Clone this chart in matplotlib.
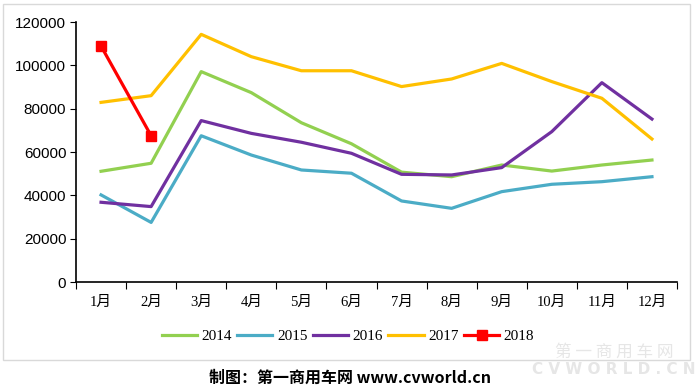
import matplotlib.pyplot as plt
from matplotlib.patches import Rectangle

# 月份及各年销量（辆）
months = ['1月', '2月', '3月', '4月', '5月', '6月', '7月', '8月', '9月', '10月', '11月', '12月']
y2014 = [51100, 54800, 97100, 87400, 73500, 63800, 50700, 48600, 54000, 51200, 54000, 56300]
y2015 = [40200, 27500, 67500, 58600, 51700, 50200, 37400, 34000, 41700, 45100, 46300, 48600]
y2016 = [36800, 34800, 74500, 68600, 64500, 59400, 49700, 49400, 52800, 69400, 92000, 75200]
y2017 = [82900, 86000, 114300, 104000, 97500, 97500, 90200, 93700, 100900, 92500, 84800, 66000]
y2018 = [108900, 67500]

cjk = ['Liberation Serif', 'Noto Sans CJK SC']

fig = plt.figure(figsize=(7, 3.9), dpi=100)
fig.patches.append(Rectangle((3/700, 1-360/390), 687/700, 356/390, transform=fig.transFigure,
                             fill=False, edgecolor='#d9d9d9', linewidth=1))
ax = fig.add_axes([76/700, 1-282/390, 601/700, 260/390])

x = list(range(12))
lw = 2.3
ax.plot(x, y2014, color='#92D050', lw=lw, label='2014')
ax.plot(x, y2015, color='#4BACC6', lw=lw, label='2015')
ax.plot(x, y2016, color='#7030A0', lw=lw, label='2016')
ax.plot(x, y2017, color='#FFC000', lw=lw, label='2017')
ax.plot(x[:len(y2018)], y2018, color='#FF0000', lw=lw, marker='s', markersize=7, label='2018')

ax.set_xlim(-0.5, 11.5)
ax.set_ylim(0, 120000)
ax.set_yticks(range(0, 120001, 20000))
ax.tick_params(axis='y', direction='out', length=4, labelsize=11, pad=3)
ax.set_xticks([i - 0.5 for i in range(13)])
ax.set_xticklabels([])
ax.set_xticks(x, minor=True)
ax.set_xticklabels(months, minor=True, fontfamily=cjk, fontsize=10.5)
ax.tick_params(axis='x', which='major', direction='out', length=5)
ax.tick_params(axis='x', which='minor', length=0, pad=10)
for lab in ax.get_yticklabels():
    lab.set_fontfamily('Liberation Sans')
for s in ['top', 'right']:
    ax.spines[s].set_visible(False)
for s in ['left', 'bottom']:
    ax.spines[s].set_color('black')
    ax.spines[s].set_linewidth(1.2)

fig.legend(loc='center', bbox_to_anchor=(348/700, 1-336/390), ncol=5, frameon=False,
           handlelength=2.3, handletextpad=0.3, columnspacing=0.35,
           prop={'family': 'Liberation Serif', 'size': 11})

fig.text(350/700, 1-378/390, '制图：第一商用车网 www.cvworld.cn', ha='center', va='center',
         fontsize=11.5, fontweight='bold', family=['Noto Sans CJK SC', 'DejaVu Sans'])
fig.text(614/700, 1-352/390, '第 一 商 用 车 网', ha='center', va='center', fontsize=12,
         color='#e6e6e6', family=['Noto Sans CJK SC', 'DejaVu Sans'])
fig.text(614/700, 1-370/390, 'C V W O R L D . C N', ha='center', va='center', fontsize=11,
         color='#e6e6e6', fontweight='bold', family='DejaVu Sans')

fig.savefig('out.png', dpi=100)
